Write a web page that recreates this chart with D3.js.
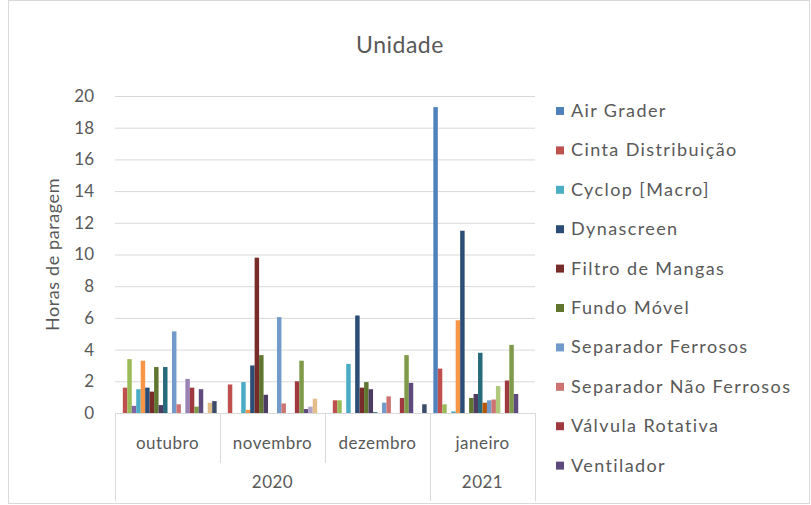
<!DOCTYPE html>
<html>
<head>
<meta charset="utf-8">
<script src="https://cdn.jsdelivr.net/npm/d3@7"></script>
<style>
  html, body { margin: 0; padding: 0; background: #fff; }
  svg { display: block; }
  text { font-family: Lato, "Open Sans", sans-serif; fill: #595959; }
</style>
</head>
<body>
<svg id="chart" width="811" height="505"></svg>
<script>
// Months on the category axis, grouped by year
const months = ["outubro", "novembro", "dezembro", "janeiro"];
const years = [
  { label: "2020", months: ["outubro", "novembro", "dezembro"] },
  { label: "2021", months: ["janeiro"] }
];

// Series (equipment), in plotting order
const seriesNames = [
  "Air Grader", "Cinta Distribuição", "Série 3", "Série 4", "Cyclop [Macro]", "Série 6",
  "Dynascreen", "Filtro de Mangas", "Fundo Móvel", "Série 10", "Série 11", "Série 12",
  "Separador Ferrosos", "Separador Não Ferrosos", "Série 15", "Série 16",
  "Válvula Rotativa", "Série 18", "Ventilador", "Série 20", "Série 21", "Série 22"
];

const seriesColors = [
  "#4F81BD", "#C0504D", "#9BBB59", "#8064A2", "#4BACC6", "#F79646",
  "#2C4D75", "#772C2A", "#5F7530", "#4D3B62", "#276A7C", "#B65708",
  "#729ACA", "#CD7371", "#AFC97A", "#9983B5", "#9E3A3F", "#7F9A48",
  "#5E4A7C", "#B3A2C7", "#E3BE8A", "#3B4C6B"
];

// Hours stopped per series, one array per month
const hoursOutubro  = [0, 1.6, 3.4, 0.45, 1.5, 3.3, 1.6, 1.35, 2.9, 0.5, 2.9, 0, 5.15, 0.55, 0, 2.15, 1.6, 0.4, 1.5, 0, 0.65, 0.75];
const hoursNovembro = [0, 1.8, 0, 0, 1.95, 0.2, 3.0, 9.8, 3.65, 1.15, 0, 0, 6.05, 0.6, 0, 0, 2.0, 3.3, 0.25, 0.4, 0.9, 0];
const hoursDezembro = [0, 0.8, 0.8, 0, 3.1, 0, 6.15, 1.6, 1.95, 1.5, 0.05, 0, 0.65, 1.05, 0, 0, 0.95, 3.65, 1.9, 0, 0, 0.55];
const hoursJaneiro  = [19.3, 2.8, 0.55, 0, 0.1, 5.85, 11.5, 0, 0.95, 1.2, 3.8, 0.65, 0.8, 0.85, 1.7, 0, 2.05, 4.3, 1.2, 0, 0, 0];

// Series listed in the legend
const legendSeries = [
  "Air Grader", "Cinta Distribuição", "Cyclop [Macro]", "Dynascreen", "Filtro de Mangas",
  "Fundo Móvel", "Separador Ferrosos", "Separador Não Ferrosos", "Válvula Rotativa", "Ventilador"
];

const yTicks = [0, 2, 4, 6, 8, 10, 12, 14, 16, 18, 20];

const hoursByMonth = {
  outubro: hoursOutubro, novembro: hoursNovembro,
  dezembro: hoursDezembro, janeiro: hoursJaneiro
};

const svg = d3.select("#chart");
const plot = { left: 115, right: 535, top: 96, bottom: 413 };

const x0 = d3.scaleBand().domain(months).range([plot.left, plot.right]).padding(0);
const x1 = d3.scaleBand().domain(d3.range(seriesNames.length))
  .range([0, x0.bandwidth()]).paddingInner(0).paddingOuter(0.75);
const y = d3.scaleLinear().domain([0, 20]).range([plot.bottom, plot.top]);

// Chart area frame
svg.append("rect")
  .attr("x", 8.5).attr("y", 0.5).attr("width", 801).attr("height", 503)
  .attr("fill", "none").attr("stroke", "#D9D9D9");

// Title
svg.append("text")
  .attr("x", 400).attr("y", 53)
  .attr("text-anchor", "middle")
  .style("font-size", "23px")
  .style("letter-spacing", "0.5px")
  .text("Unidade");

// Gridlines + y tick labels
const yAxis = d3.axisLeft(y).tickValues(yTicks).tickSize(-(plot.right - plot.left)).tickPadding(21);
const gy = svg.append("g").attr("transform", `translate(${plot.left},0)`).call(yAxis);
gy.select(".domain").remove();
gy.selectAll(".tick line").attr("stroke", "#D9D9D9");
gy.selectAll(".tick text").style("font-size", "17px").attr("fill", "#595959");

// Y axis title
svg.append("text")
  .attr("transform", `translate(59,${(plot.top + plot.bottom) / 2}) rotate(-90)`)
  .attr("text-anchor", "middle")
  .style("font-size", "18px")
  .style("letter-spacing", "0.6px")
  .text("Horas de paragem");

// Bars
const groups = svg.append("g").selectAll("g")
  .data(months)
  .join("g")
  .attr("transform", m => `translate(${x0(m)},0)`);

groups.selectAll("rect")
  .data(m => hoursByMonth[m].map((v, i) => ({ i, v })))
  .join("rect")
  .filter(d => d.v > 0)
  .attr("x", d => x1(d.i))
  .attr("width", x1.bandwidth())
  .attr("y", d => y(d.v))
  .attr("height", d => y(0) - y(d.v))
  .attr("fill", d => seriesColors[d.i]);

// Category axis: baseline, month labels, year labels and separators
const axisColor = "#D9D9D9";
svg.append("line")
  .attr("x1", plot.left).attr("x2", plot.right)
  .attr("y1", plot.bottom + 0.5).attr("y2", plot.bottom + 0.5)
  .attr("stroke", axisColor);

const monthRowBottom = 463, yearRowBottom = 501;

months.forEach(m => {
  svg.append("text")
    .attr("x", x0(m) + x0.bandwidth() / 2).attr("y", 449)
    .attr("text-anchor", "middle")
    .style("font-size", "17px")
    .style("letter-spacing", "0.5px")
    .text(m);
});

years.forEach(yr => {
  const first = yr.months[0], last = yr.months[yr.months.length - 1];
  const xs = x0(first), xe = x0(last) + x0.bandwidth();
  // separators between months of the same year
  yr.months.slice(1).forEach(m => {
    svg.append("line")
      .attr("x1", Math.round(x0(m)) + 0.5).attr("x2", Math.round(x0(m)) + 0.5)
      .attr("y1", plot.bottom).attr("y2", monthRowBottom)
      .attr("stroke", axisColor);
  });
  // year boundaries
  [xs, xe].forEach(xv => {
    svg.append("line")
      .attr("x1", Math.round(xv) + 0.5).attr("x2", Math.round(xv) + 0.5)
      .attr("y1", plot.bottom).attr("y2", yearRowBottom)
      .attr("stroke", axisColor);
  });
  svg.append("text")
    .attr("x", (xs + xe) / 2).attr("y", 488)
    .attr("text-anchor", "middle")
    .style("font-size", "17px")
    .style("letter-spacing", "0.5px")
    .text(yr.label);
});

// Legend
const legend = svg.append("g").attr("transform", "translate(556,0)");
legendSeries.forEach((name, k) => {
  const idx = seriesNames.indexOf(name);
  const cy = 111 + k * 39.4;
  legend.append("rect")
    .attr("x", 0).attr("y", cy - 4).attr("width", 8).attr("height", 8)
    .attr("fill", seriesColors[idx]);
  legend.append("text")
    .attr("x", 15).attr("y", cy + 6)
    .style("font-size", "18px")
    .style("letter-spacing", "1.4px")
    .text(name);
});
</script>
</body>
</html>
